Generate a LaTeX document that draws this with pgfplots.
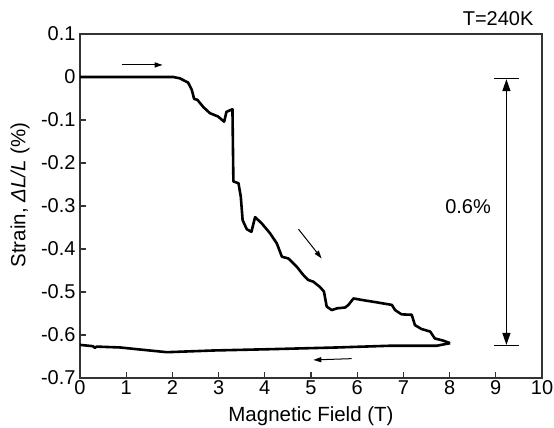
\documentclass[border=0pt]{standalone}
\usepackage{pgfplots}
\pgfplotsset{compat=1.18}
\usepackage{fontspec}
\setmainfont{Liberation Sans}
\usetikzlibrary{arrows.meta}
\definecolor{axgray}{HTML}{333333}
\begin{document}
\begin{tikzpicture}
\useasboundingbox (0bp,0bp) rectangle (554bp,428bp);
\begin{axis}[
  at={(80bp,50bp)}, anchor=south west,
  scale only axis, width=462bp, height=344bp,
  xmin=0, xmax=10, ymin=-0.7, ymax=0.1,
  xtick={0,1,...,10},
  ytick={-0.7,-0.6,-0.5,-0.4,-0.3,-0.2,-0.1,0,0.1},
  yticklabels={-0.7,-0.6,-0.5,-0.4,-0.3,-0.2,-0.1,0,0.1},
  xtick pos=bottom, ytick pos=left,
  tick align=inside,
  major tick length=6bp,
  axis line style={axgray, line width=1.4bp},
  every tick/.style={axgray, line width=1.2bp},
  /pgf/number format/assume math mode=true,
  tick label style={font=\fontsize{20bp}{22bp}\selectfont},
  xticklabel style={yshift=1bp},
  yticklabel style={xshift=-1bp},
  label style={font=\fontsize{20.5bp}{22bp}\selectfont},
  xlabel={Magnetic Field (T)},
  ylabel={Strain, \textit{ΔL/L} (\%)},
  xlabel style={at={(axis description cs:0.5,0)}, anchor=base, yshift=-43bp},
  ylabel style={at={(axis description cs:0,0.5)}, anchor=center, xshift=11bp, yshift=60bp},
  clip=false,
]
\addplot[black, line width=2.6bp, line join=round] coordinates {
(0,0) (1.0,0) (2.02,0) (2.16,-0.003) (2.34,-0.013) (2.42,-0.03) (2.47,-0.051)
(2.54,-0.053) (2.67,-0.07) (2.81,-0.084) (2.99,-0.092) (3.12,-0.104)
(3.17,-0.081) (3.30,-0.075) (3.31,-0.16) (3.32,-0.243) (3.43,-0.247)
(3.48,-0.278) (3.52,-0.333) (3.61,-0.354) (3.71,-0.36) (3.79,-0.326)
(3.93,-0.340) (4.11,-0.363) (4.26,-0.387) (4.37,-0.418) (4.51,-0.422)
(4.69,-0.441) (4.83,-0.46) (4.94,-0.472) (5.05,-0.476) (5.19,-0.488)
(5.28,-0.499) (5.34,-0.534) (5.45,-0.542) (5.56,-0.538) (5.74,-0.536)
(5.81,-0.530) (5.92,-0.515) (6.13,-0.519) (6.42,-0.524) (6.75,-0.530)
(6.82,-0.542) (6.96,-0.552) (7.18,-0.553) (7.25,-0.577) (7.39,-0.586)
(7.58,-0.592) (7.68,-0.608) (7.86,-0.613) (8.01,-0.619)
};
\addplot[black, line width=2.6bp, line join=round] coordinates {
(8.01,-0.619) (7.72,-0.625) (6.71,-0.625) (5.56,-0.629) (4.11,-0.633)
(2.89,-0.636) (1.88,-0.640) (1.23,-0.633) (0.87,-0.629) (0.36,-0.627)
(0.32,-0.630) (0.28,-0.626) (0,-0.623)
};
% direction arrows
\draw[black, line width=1bp, -{Triangle[length=8bp,width=5bp]}] (axis cs:0.9,0.028) -- (axis cs:1.79,0.028);
\draw[black, line width=1bp, -{Triangle[length=8bp,width=5bp]}] (axis cs:4.73,-0.354) -- (axis cs:5.23,-0.422);
\draw[black, line width=1bp, -{Triangle[length=8bp,width=5bp]}] (axis cs:5.88,-0.655) -- (axis cs:5.05,-0.658);
% 0.6% scale bar
\draw[black, line width=1.3bp] (axis cs:8.96,-0.003) -- (axis cs:9.50,-0.003);
\draw[black, line width=1.3bp] (axis cs:8.96,-0.625) -- (axis cs:9.50,-0.625);
\draw[black, line width=1.3bp, {Triangle[length=12bp,width=8bp]}-{Triangle[length=12bp,width=8bp]}] (axis cs:9.23,-0.005) -- (axis cs:9.23,-0.623);
\node[font=\fontsize{20bp}{22bp}\selectfont] at (axis cs:8.40,-0.302) {0.6\%};
\node[font=\fontsize{20bp}{22bp}\selectfont, anchor=base east] at (axis cs:9.89,0.1) [yshift=8bp] {T=240K};
\end{axis}
\end{tikzpicture}
\end{document}
